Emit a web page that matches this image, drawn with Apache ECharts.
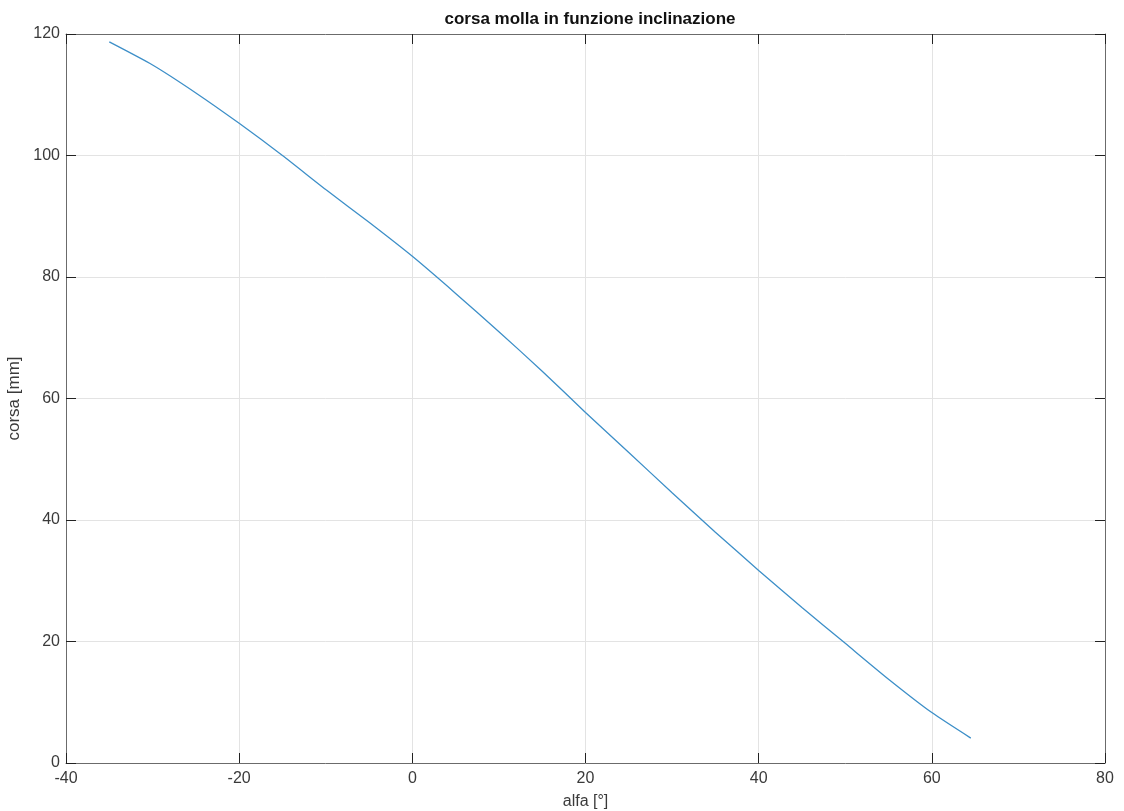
<!DOCTYPE html>
<html>
<head>
<meta charset="utf-8">
<script src="https://cdn.jsdelivr.net/npm/echarts@6/dist/echarts.min.js"></script>
<style>
  html, body { margin: 0; padding: 0; background: #fff; }
  #chart { width: 1124px; height: 811px; }
</style>
</head>
<body>
<div id="chart"></div>
<script>
// alfa [°] and corsa [mm]
const alfa = [-35, -30, -25, -20, -15, -10, -5, 0, 5, 10, 15, 20, 25, 30, 35, 40, 45, 50, 55, 60, 64.5];
const corsa = [118.7, 114.9, 110.3, 105.3, 100.0, 94.4, 89.0, 83.4, 77.3, 71.0, 64.5, 57.7, 51.1, 44.5, 38.0, 31.7, 25.6, 19.7, 13.8, 8.3, 4.1];

const xTicks = [-40, -20, 0, 20, 40, 60, 80];
const yTicks = [0, 20, 40, 60, 80, 100, 120];

const axisColor = '#6b6b6b';
const textColor = '#3a3a3a';
const font = 'Liberation Sans, Arial, sans-serif';

const chart = echarts.init(document.getElementById('chart'), null, { renderer: 'canvas' });

const baseX = {
  type: 'value',
  min: xTicks[0],
  max: xTicks[xTicks.length - 1],
  interval: 20,
  axisLine: { show: true, onZero: false, lineStyle: { color: axisColor, width: 1 } },
  axisTick: { show: true, inside: true, length: 10, lineStyle: { color: '#222' } },
};
const baseY = {
  type: 'value',
  min: yTicks[0],
  max: yTicks[yTicks.length - 1],
  interval: 20,
  axisLine: { show: true, onZero: false, lineStyle: { color: axisColor, width: 1 } },
  axisTick: { show: true, inside: true, length: 10, lineStyle: { color: '#222' } },
};

chart.setOption({
  backgroundColor: '#fff',
  animation: false,
  title: {
    text: 'corsa molla in funzione inclinazione',
    left: 585,
    textAlign: 'center',
    top: 6,
    textStyle: { fontFamily: font, fontSize: 17, fontWeight: 'bold', color: '#111' }
  },
  grid: { left: 66, right: 19, top: 34, bottom: 48, outerBoundsMode: 'none' },
  xAxis: [
    Object.assign({}, baseX, {
      position: 'bottom',
      name: 'alfa [°]',
      nameLocation: 'middle',
      nameGap: 31,
      nameTextStyle: { fontFamily: font, fontSize: 16, color: textColor },
      axisLabel: { fontFamily: font, fontSize: 16, color: textColor, margin: 8 },
      splitLine: { show: true, lineStyle: { color: '#e3e3e3', width: 1 } }
    }),
    Object.assign({}, baseX, {
      position: 'top',
      axisLabel: { show: false },
      splitLine: { show: false }
    })
  ],
  yAxis: [
    Object.assign({}, baseY, {
      position: 'left',
      name: 'corsa [mm]',
      nameLocation: 'middle',
      nameGap: 40,
      nameTextStyle: { fontFamily: font, fontSize: 17, color: textColor },
      axisLabel: { fontFamily: font, fontSize: 16, color: textColor, margin: 6 },
      splitLine: { show: true, lineStyle: { color: '#e3e3e3', width: 1 } }
    }),
    Object.assign({}, baseY, {
      position: 'right',
      axisLabel: { show: false },
      splitLine: { show: false }
    })
  ],
  series: [{
    type: 'line',
    xAxisIndex: 0,
    yAxisIndex: 0,
    data: alfa.map((a, i) => [a, corsa[i]]),
    smooth: 0.2,
    showSymbol: false,
    lineStyle: { color: '#3d8fc8', width: 1.3 },
    itemStyle: { color: '#3d8fc8' }
  }]
});
</script>
</body>
</html>
